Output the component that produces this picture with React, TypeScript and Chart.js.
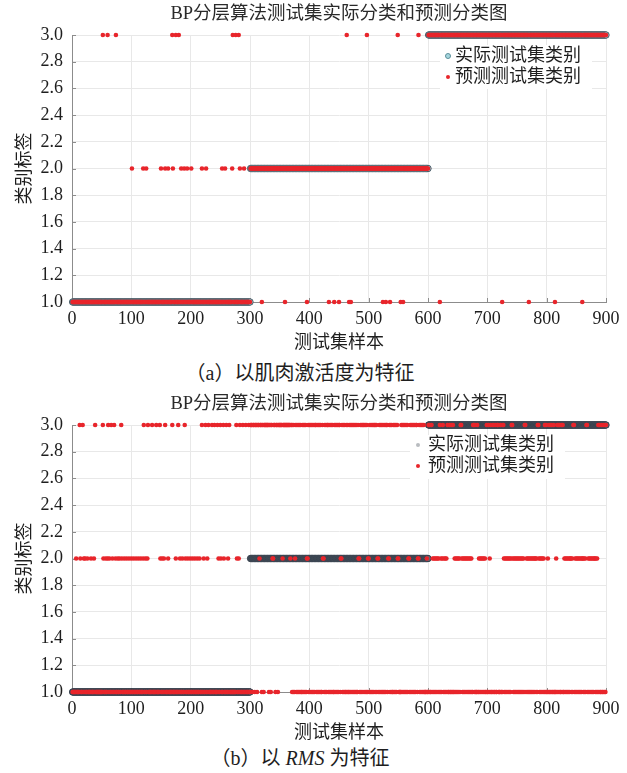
import React, { useEffect, useRef } from "react";
import { Chart, registerables } from "chart.js";

Chart.register(...registerables);

// ---------- text ----------
const TITLE = "BP分层算法测试集实际分类和预测分类图";
const X_TITLE = "测试集样本";
const Y_TITLE = "类别标签";
const LEGEND_ACTUAL = "实际测试集类别";
const LEGEND_PRED = "预测测试集类别";

// ---------- ticks ----------
const X_TICKS = [0, 100, 200, 300, 400, 500, 600, 700, 800, 900];
const Y_TICKS = [1.0, 1.2, 1.4, 1.6, 1.8, 2.0, 2.2, 2.4, 2.6, 2.8, 3.0];

// ---------- data ----------
// actual class of the test samples: [first sample, last sample, class]
const ACTUAL_RUNS = [
  [1, 300, 1],
  [301, 600, 2],
  [601, 900, 3],
];

// (a) muscle activation feature: misclassified samples, by predicted class
const PRED_A_AS_1 = [320, 359, 396, 433, 442, 450, 467, 470, 524, 529, 536, 554, 558, 620, 725, 770, 814, 860];
const PRED_A_AS_2 = [101, 120, 125, 150, 157, 162, 170, 184, 189, 194, 201, 219, 226, 253, 258, 270, 283, 290];
const PRED_A_AS_3 = [52, 60, 74, 169, 175, 180, 271, 276, 281, 463, 497, 549, 584];

// (b) RMS feature: predicted class of every sample (groups of 10 samples)
const PRED_B_001_100 = "1111112111 1132111312 1211121111 1211112131 1111111111 1321112112 3121131211 3121112112 1132111211 1211121112";
const PRED_B_101_200 = "1112111211 1211121112 3112112311 1111311111 1311111321 1211213111 1211111131 1111211131 1211121113 2111211121";
const PRED_B_201_300 = "1121112111 2111211131 1211311213 1111131113 1111312113 2111321113 1121311111 1111113211 2131111311 1131111311";
const PRED_B_301_400 = "3331333133 3133323331 3313333333 3133133223 3313331333 3333233333 3333333233 1313123131 3131311313 1313122313";
const PRED_B_401_500 = "1313131313 3131313131 1322131313 3131313131 1313131313 3122313131 1313113131 3131313131 1322131313 3131313122";
const PRED_B_501_600 = "1313131313 3131221313 1313131313 3122313131 1313131322 1111313131 3131312213 1313131313 3122313131 3131111211";
const PRED_B_601_700 = "3131131212 1212121213 1212312121 2131131131 1311212121 2121332121 2121212121 2121133131 1131121212 1212121131";
const PRED_B_701_800 = "1312131131 3113113311 1311313212 1212121212 3321212121 2121212121 2133121212 1212121212 2121332121 2121213131";
const PRED_B_801_900 = "1213113131 1311121313 1311313112 1212121212 2121331212 1212121212 2121213312 1212121212 2121213131 1311313113";

// ---------- build series ----------
function expandRuns(runs: number[][]): number[] {
  const out: number[] = [];
  runs.forEach(([a, b, c]) => {
    for (let i = a; i <= b; i++) out.push(c);
  });
  return out;
}

const ACTUAL = expandRuns(ACTUAL_RUNS);

const PRED_A = ACTUAL.slice();
PRED_A_AS_1.forEach((i) => (PRED_A[i - 1] = 1));
PRED_A_AS_2.forEach((i) => (PRED_A[i - 1] = 2));
PRED_A_AS_3.forEach((i) => (PRED_A[i - 1] = 3));

const PRED_B = [
  PRED_B_001_100, PRED_B_101_200, PRED_B_201_300,
  PRED_B_301_400, PRED_B_401_500, PRED_B_501_600,
  PRED_B_601_700, PRED_B_701_800, PRED_B_801_900,
].join("").replace(/\s+/g, "").split("").map(Number);

const toPoints = (arr: number[]) => arr.map((v, i) => ({ x: i + 1, y: v }));

// ---------- style ----------
const FONT = '"Liberation Serif", "Noto Sans CJK SC", serif';
const RED = "#e8252b";
const AXIS = "#8c8c8c";
const GRID = "#e8e8e8";
const TEXT = "#1e1e1e";

const inwardTicks = {
  id: "inwardTicks",
  beforeDatasetsDraw(chart: any) {
    const { ctx, chartArea, scales } = chart;
    const { left, bottom } = chartArea;
    ctx.save();
    ctx.strokeStyle = AXIS;
    ctx.lineWidth = 1;
    scales.x.ticks.forEach((t: any) => {
      const px = Math.round(scales.x.getPixelForValue(t.value)) + 0.5;
      ctx.beginPath();
      ctx.moveTo(px, bottom);
      ctx.lineTo(px, bottom - 4);
      ctx.stroke();
    });
    scales.y.ticks.forEach((t: any) => {
      const py = Math.round(scales.y.getPixelForValue(t.value)) + 0.5;
      ctx.beginPath();
      ctx.moveTo(left, py);
      ctx.lineTo(left + 4, py);
      ctx.stroke();
    });
    ctx.restore();
  },
};

const boxLegend = {
  id: "boxLegend",
  afterDatasetsDraw(chart: any, _args: any, opts: any) {
    if (!opts || !opts.items) return;
    const { ctx } = chart;
    ctx.save();
    ctx.fillStyle = "#ffffff";
    ctx.fillRect(opts.box[0], opts.box[1], opts.box[2], opts.box[3]);
    ctx.font = `${opts.fontSize}px ${FONT}`;
    ctx.textBaseline = "middle";
    ctx.textAlign = "left";
    opts.items.forEach((it: any, i: number) => {
      const y = opts.y + i * opts.rowGap;
      ctx.beginPath();
      ctx.arc(opts.markerX, y, it.r, 0, Math.PI * 2);
      ctx.fillStyle = it.fill;
      ctx.fill();
      if (it.stroke) {
        ctx.strokeStyle = it.stroke;
        ctx.lineWidth = 1;
        ctx.stroke();
      }
      ctx.fillStyle = TEXT;
      ctx.fillText(it.text, opts.textX, y);
    });
    ctx.restore();
  },
};

type Props = {
  predicted: number[];
  top: number;
  actualFill: string;
  actualStroke: string;
  legend: any;
};

function ClassChart({ predicted, top, actualFill, actualStroke, legend }: Props) {
  const ref = useRef<HTMLCanvasElement>(null);
  useEffect(() => {
    if (!ref.current) return;
    const chart = new Chart(ref.current, {
      type: "scatter",
      data: {
        datasets: [
          {
            label: LEGEND_ACTUAL,
            data: toPoints(ACTUAL),
            order: 2,
            pointRadius: 3.2,
            pointBackgroundColor: actualFill,
            pointBorderColor: actualStroke,
            pointBorderWidth: 1,
            showLine: false,
            clip: false,
          } as any,
          {
            label: LEGEND_PRED,
            data: toPoints(predicted),
            order: 1,
            pointRadius: 2.3,
            pointBackgroundColor: RED,
            pointBorderWidth: 0,
            showLine: false,
            clip: false,
          } as any,
        ],
      },
      options: {
        animation: false,
        responsive: false,
        devicePixelRatio: 1,
        events: [],
        layout: { padding: { left: 0, right: 21, top: 0, bottom: 0 } },
        plugins: {
          legend: { display: false },
          tooltip: { enabled: false },
          title: {
            display: true,
            fullSize: false,
            text: TITLE,
            color: "#2a2a2a",
            font: { family: FONT, size: 18.5, weight: "normal" },
            padding: { top: 3, bottom: 9.8 },
          },
          boxLegend: legend,
        } as any,
        scales: {
          x: {
            type: "linear",
            min: 0,
            max: 900,
            afterBuildTicks: (s: any) => {
              s.ticks = X_TICKS.map((v) => ({ value: v }));
            },
            afterFit: (s: any) => {
              s.height = 53;
            },
            ticks: {
              color: TEXT,
              font: { family: FONT, size: 18 },
              padding: 6,
              maxRotation: 0,
              autoSkip: false,
            },
            grid: { color: GRID, drawTicks: false },
            border: { color: AXIS, width: 1 },
            title: {
              display: true,
              text: X_TITLE,
              color: TEXT,
              font: { family: FONT, size: 18 },
              padding: { top: 0, bottom: 1 },
            },
          },
          y: {
            type: "linear",
            min: 1,
            max: 3,
            afterBuildTicks: (s: any) => {
              s.ticks = Y_TICKS.map((v) => ({ value: v }));
            },
            afterFit: (s: any) => {
              s.width = 72;
            },
            ticks: {
              color: TEXT,
              font: { family: FONT, size: 18 },
              padding: 9,
              callback: (v: any) => Number(v).toFixed(1),
            },
            grid: { color: GRID, drawTicks: false },
            border: { color: AXIS, width: 1 },
            title: {
              display: true,
              text: Y_TITLE,
              color: TEXT,
              font: { family: FONT, size: 18 },
              padding: { top: 14, bottom: 0 },
            },
          },
        },
      } as any,
      plugins: [inwardTicks, boxLegend],
    });
    return () => chart.destroy();
  }, []);
  return (
    <canvas
      ref={ref}
      width={627}
      height={355}
      style={{ position: "absolute", left: 0, top, width: 627, height: 355 }}
    />
  );
}

const captionStyle: React.CSSProperties = {
  position: "absolute",
  left: 0,
  width: 600,
  textAlign: "center",
  fontFamily: FONT,
  fontSize: 20,
  lineHeight: "24px",
  color: TEXT,
  whiteSpace: "nowrap",
};

export default function App() {
  return (
    <div style={{ position: "absolute", left: 0, top: 0, width: 627, height: 773, background: "#fff" }}>
      <ClassChart
        predicted={PRED_A}
        top={0}
        actualFill="#a6d6de"
        actualStroke="#4f5f69"
        legend={{
          box: [440, 45, 152, 44],
          markerX: 448,
          textX: 455,
          y: 56,
          rowGap: 21,
          fontSize: 18,
          items: [
            { text: LEGEND_ACTUAL, fill: "#a6d6de", stroke: "#5b8f9a", r: 2.5 },
            { text: LEGEND_PRED, fill: RED, r: 2 },
          ],
        }}
      />
      <div style={{ ...captionStyle, top: 361 }}>（a）以肌肉激活度为特征</div>
      <ClassChart
        predicted={PRED_B}
        top={390}
        actualFill="#5d6774"
        actualStroke="#38424e"
        legend={{
          box: [410, 45, 155, 44],
          markerX: 418,
          textX: 428,
          y: 55,
          rowGap: 21,
          fontSize: 18,
          items: [
            { text: LEGEND_ACTUAL, fill: "#b9bcc0", r: 2 },
            { text: LEGEND_PRED, fill: RED, r: 2 },
          ],
        }}
      />
      <div style={{ ...captionStyle, top: 746 }}>
        （b）以 <i>RMS</i> 为特征
      </div>
    </div>
  );
}
